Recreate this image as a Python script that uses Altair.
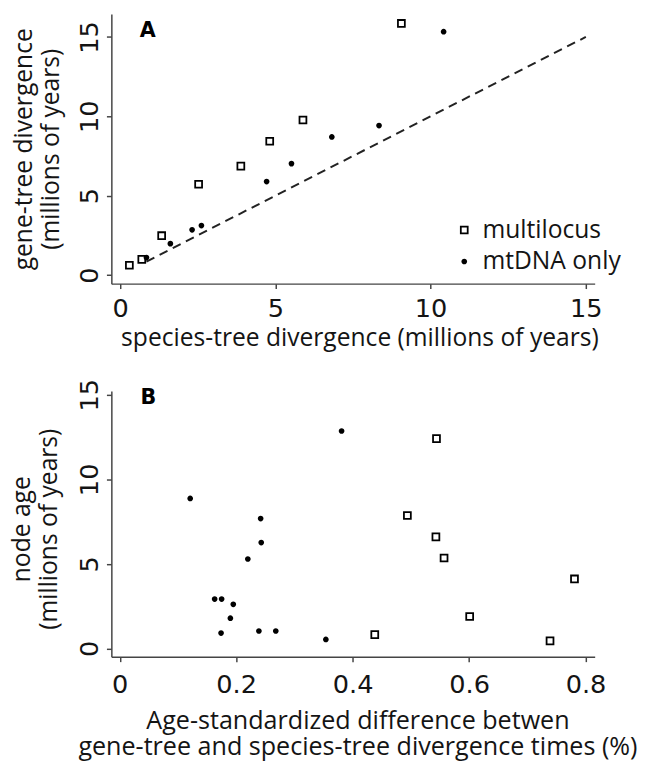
import altair as alt
import pandas as pd

# ---------------- data ----------------
# Panel A: species-tree vs gene-tree divergence (millions of years)
a_multi_x = [0.30, 0.70, 1.34, 2.53, 3.89, 4.82, 5.89, 9.06]
a_multi_y = [0.62, 0.99, 2.48, 5.72, 6.86, 8.43, 9.77, 15.85]
a_mt_x = [0.85, 1.62, 2.32, 2.62, 4.72, 5.52, 6.82, 8.34, 10.42]
a_mt_y = [1.10, 1.98, 2.85, 3.12, 5.89, 7.02, 8.70, 9.42, 15.33]
ref_line = [0.85, 15.0]  # 1:1 line

# Panel B: age-standardized difference vs node age
b_multi_x = [0.438, 0.494, 0.544, 0.543, 0.557, 0.601, 0.739, 0.781]
b_multi_y = [0.82, 7.86, 12.41, 6.60, 5.35, 1.89, 0.45, 4.11]
b_mt_x = [0.121, 0.163, 0.175, 0.195, 0.190, 0.174, 0.220, 0.242, 0.243,
          0.239, 0.268, 0.354, 0.381]
b_mt_y = [8.87, 2.92, 2.92, 2.61, 1.79, 0.91, 5.29, 7.68, 6.26,
          1.03, 1.03, 0.53, 12.86]

groups = ["multilocus", "mtDNA only"]
a_ticks = [0, 5, 10, 15]
b_xticks = [0, 0.2, 0.4, 0.6, 0.8]

# ---------------- frames ----------------
dfA = pd.DataFrame({
    "x": a_multi_x + a_mt_x,
    "y": a_multi_y + a_mt_y,
    "g": [groups[0]] * len(a_multi_x) + [groups[1]] * len(a_mt_x),
})
dfL = pd.DataFrame({"x": ref_line, "y": ref_line})
dfB = pd.DataFrame({
    "x": b_multi_x + b_mt_x,
    "y": b_multi_y + b_mt_y,
    "g": [groups[0]] * len(b_multi_x) + [groups[1]] * len(b_mt_x),
})

TICKF = "DejaVu Sans"
TITLEF = "Open Sans"
AX = "#444444"
TXT = "#141414"

common_axis = dict(
    grid=False, domainColor=AX, domainWidth=1.5, tickColor=AX, tickWidth=1.5,
    tickSize=5, labelFont=TICKF, labelFontSize=26, labelColor=TXT,
    titleFont=TITLEF, titleFontWeight="normal", titleColor=TXT,
)

shape_scale = alt.Scale(domain=groups, range=["square", "circle"])
fill_scale = alt.Scale(domain=groups, range=["white", "black"])
stroke_scale = alt.Scale(domain=groups, range=["black", "black"])
size_scale = alt.Scale(domain=groups, range=[49, 16])

def points(df, xscale, yscale, xaxis, yaxis, legend):
    return alt.Chart(df).mark_point(strokeWidth=1.8, opacity=1).encode(
        x=alt.X("x:Q", scale=xscale, axis=xaxis),
        y=alt.Y("y:Q", scale=yscale, axis=yaxis),
        shape=alt.Shape("g:N", scale=shape_scale, legend=legend),
        fill=alt.Fill("g:N", scale=fill_scale, legend=legend),
        stroke=alt.Stroke("g:N", scale=stroke_scale, legend=legend),
        size=alt.Size("g:N", scale=size_scale, legend=legend),
    )

# ---------------- panel A ----------------
xA = alt.Scale(domain=[-0.28, 15.285], nice=False, zero=False)
yA = alt.Scale(domain=[-0.54, 16.45], nice=False, zero=False)
axA_x = alt.Axis(values=a_ticks, title="species-tree divergence (millions of years)",
                 labelPadding=7, titleX=252, titleY=63, titleBaseline="alphabetic",
                 titleFontSize=25, **common_axis)
axA_y = alt.Axis(values=a_ticks, title=["gene-tree divergence", "(millions of years)"],
                 labelAngle=270, labelAlign="center", labelBaseline="alphabetic",
                 labelPadding=9, titleX=-81, titleY=137, titleBaseline="alphabetic",
                 titleLineHeight=27, titleAngle=270, titleAlign="center",
                 titleFontSize=25, **common_axis)
legA = alt.Legend(title=None, orient="none", legendX=346, legendY=207, padding=0,
                  labelFont=TITLEF, labelFontSize=25, labelColor=TXT,
                  rowPadding=6, labelOffset=6, symbolStrokeWidth=1.8)

lineA = alt.Chart(dfL).mark_line(color="#222222", strokeWidth=2, strokeDash=[9, 6]).encode(
    x=alt.X("x:Q", scale=xA), y=alt.Y("y:Q", scale=yA))
ptsA = points(dfA, xA, yA, axA_x, axA_y, legA)
labA = alt.Chart(pd.DataFrame({"t": ["A"]})).mark_text(
    font="DejaVu Sans", fontSize=21, fontWeight="bold", align="center",
    baseline="middle", color="black").encode(
    text="t:N", x=alt.value(37), y=alt.value(17))

panelA = alt.layer(lineA, ptsA, labA).properties(width=491, height=274)

# ---------------- panel B ----------------
xB = alt.Scale(domain=[-0.0144, 0.8157], nice=False, zero=False)
yB = alt.Scale(domain=[-0.49, 15.23], nice=False, zero=False)
axB_x = alt.Axis(values=b_xticks,
                 labelExpr="datum.value == 0 ? '0' : format(datum.value, '.1f')",
                 title=["Age-standardized difference betwen",
                        "gene-tree and species-tree divergence times (%)"],
                 labelPadding=10, titleX=250, titleY=73, titleBaseline="alphabetic",
                 titleLineHeight=26, titleFontSize=25.5, **common_axis)
axB_y = alt.Axis(values=a_ticks, title=["node age", "(millions of years)"],
                 labelAngle=270, labelAlign="center", labelBaseline="alphabetic",
                 labelPadding=9, titleX=-83, titleY=140, titleBaseline="alphabetic",
                 titleLineHeight=27, titleAngle=270, titleAlign="center",
                 titleFontSize=25, **common_axis)
ptsB = points(dfB, xB, yB, axB_x, axB_y, None)
labB = alt.Chart(pd.DataFrame({"t": ["B"]})).mark_text(
    font="DejaVu Sans", fontSize=21, fontWeight="bold", align="center",
    baseline="middle", color="black").encode(
    text="t:N", x=alt.value(37.5), y=alt.value(7))

panelB = alt.layer(ptsB, labB).properties(width=491, height=270)

chart = alt.vconcat(panelA, panelB, spacing=28).resolve_scale(
    x="independent", y="independent"
).configure_view(stroke=None).properties(
    padding={"left": 2, "top": 0, "right": 0, "bottom": 0})

chart.save("out.html", embed_options={"renderer": "svg", "actions": False})
